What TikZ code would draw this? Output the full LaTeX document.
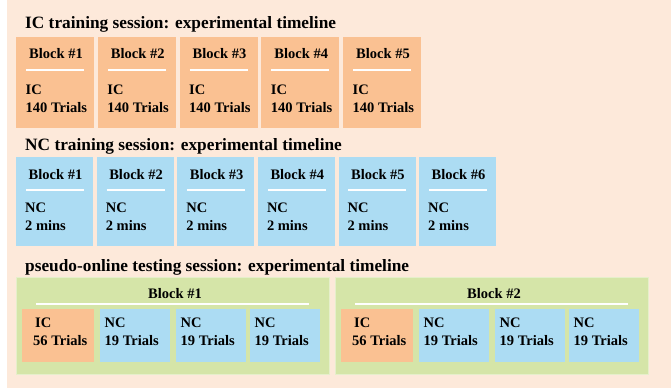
\documentclass[tikz,border=0pt]{standalone}
\usepackage{fontspec}
\setmainfont{Liberation Serif}
\definecolor{peach}{HTML}{FDE9DA}
\definecolor{icorange}{HTML}{FAC192}
\definecolor{ncblue}{HTML}{ACDCF3}
\definecolor{grn}{HTML}{D5E5A8}
\begin{document}
\begin{tikzpicture}[x=1pt,y=-1pt,
  title/.style={font=\fontsize{17.3}{20}\selectfont\bfseries, inner sep=0pt, anchor=base west},
  lbl/.style={font=\fontsize{14.5}{17}\selectfont\bfseries, inner sep=0pt},
  icbox/.style={fill=icorange, draw=none, minimum width=78pt, minimum height=91pt, inner sep=0pt, anchor=north west},
  ncbox/.style={fill=ncblue, draw=none, minimum width=77pt, minimum height=89pt, inner sep=0pt, anchor=north west},
  grnbox/.style={fill=grn, draw=grn!60!white, line width=0.6pt, minimum width=313pt, minimum height=97pt, inner sep=0pt, anchor=north west},
  sep/.style={draw=white, line width=2pt}
]
\useasboundingbox (0,0) rectangle (672,389);
\fill[peach] (7,0) rectangle (671,388);

% IC training session
\node[title] (t1) at (25,28.3) {IC training session: experimental timeline};
\foreach \i in {1,...,5} {
  \pgfmathsetmacro\xl{16+81.75*(\i-1)}
  \node[icbox] (ic\i) at (\xl,37) {};
  \node[lbl, anchor=base] (icb\i) at (\xl+40,58.7) {Block \#\i};
  \draw[sep] (\xl+10,70) -- (\xl+68,70);
  \node[lbl, anchor=base west] (icx\i) at (\xl+9.5,94.3) {IC};
  \node[lbl, anchor=base west] (icy\i) at (\xl+9.5,112.7) {140 Trials};
}

% NC training session
\node[title] (t2) at (25,150.7) {NC training session: experimental timeline};
\foreach \i in {1,...,6} {
  \pgfmathsetmacro\xl{16+80.6*(\i-1)}
  \node[ncbox] (nc\i) at (\xl,157) {};
  \node[lbl, anchor=base] (ncb\i) at (\xl+39.5,179.3) {Block \#\i};
  \draw[sep] (\xl+10,190) -- (\xl+68,190);
  \node[lbl, anchor=base west] (ncx\i) at (\xl+9,212) {NC};
  \node[lbl, anchor=base west] (ncy\i) at (\xl+9,230) {2 mins};
}

% pseudo-online testing session
\node[title] (t3) at (25,271) {pseudo-online testing session: experimental timeline};
\foreach \j/\gx in {1/16,2/335} {
  \node[grnbox] (g\j) at (\gx,277) {};
  \node[lbl, anchor=base] (gb\j) at (\gx+159,298.3) {Block \#\j};
  \draw[sep] (\gx+20,304) -- (\gx+293,304);
  \node[fill=icorange, minimum width=72pt, minimum height=53pt, inner sep=0pt, anchor=north west] (p\j a) at (\gx+6,309) {};
  \node[lbl, anchor=base west] (p\j ax) at (\gx+19,327.7) {IC};
  \node[lbl, anchor=base west] (p\j ay) at (\gx+17,345.7) {56 Trials};
  \foreach \k/\ox in {b/83.5,c/159.5,d/233.5} {
    \node[fill=ncblue, minimum width=70pt, minimum height=53pt, inner sep=0pt, anchor=north west] (p\j\k) at (\gx+\ox,309) {};
    \node[lbl, anchor=base west] (p\j\k x) at (\gx+\ox+5,327.7) {NC};
    \node[lbl, anchor=base west] (p\j\k y) at (\gx+\ox+5,345.7) {19 Trials};
  }
}
\end{tikzpicture}
\end{document}
